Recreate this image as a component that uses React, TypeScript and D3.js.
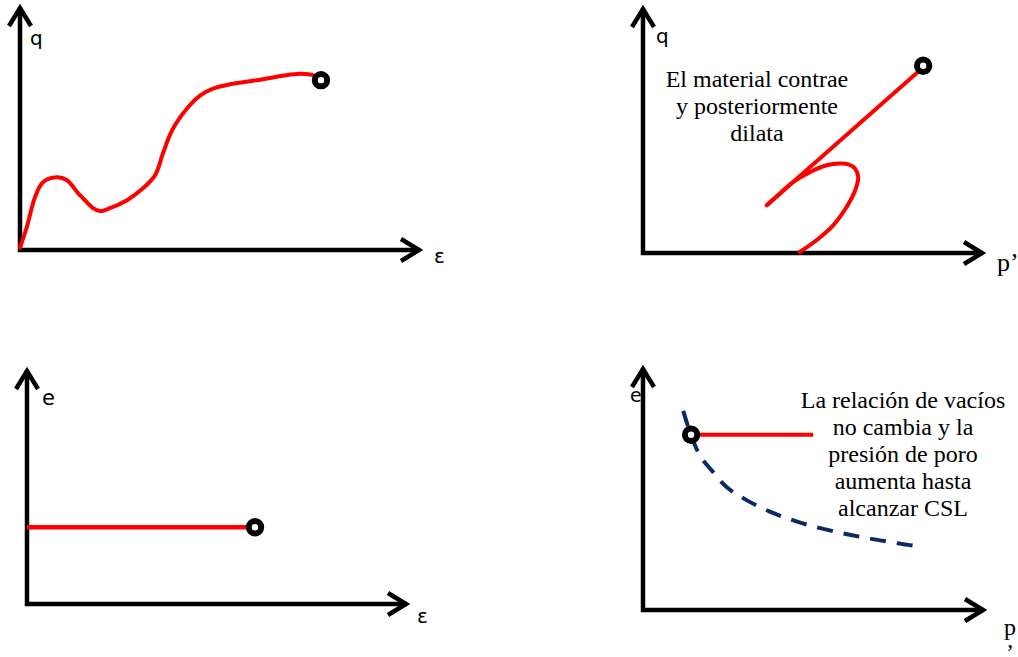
import React from 'react';
import * as d3 from 'd3';

const W = 1018;
const H = 657;

// ---------- Data (schematic units 0..100 along each axis) ----------
// Panel A: q vs ε
const qEpsCurve: [number, number][] = [
  [0, 1], [1.7, 9.4], [3.75, 21.7], [5.75, 27.9], [9.25, 29.9], [11.75, 28.7],
  [14.5, 23.4], [15.75, 21.3], [18.25, 17.2], [20, 16], [22.5, 17.2], [26.75, 20.5],
  [30.75, 25.4], [33.75, 30.7], [35.75, 39.8], [38, 49.2], [41.75, 58.2], [45, 63.5],
  [48.25, 66.4], [53.25, 68.4], [60, 70.1], [65.75, 71.7], [70, 72.5], [73, 72.1],
];
const qEpsEnd: [number, number] = [75.25, 69.9];

// Panel B: q vs p'
const qpLoop: [number, number][] = [
  [46.1, 0.4], [51.1, 5.3], [56.0, 11.4], [59.9, 18.8], [62.4, 25.6], [63.3, 31.0],
  [62.4, 34.4], [60.4, 36.2], [57.9, 36.5], [54.0, 35.8], [49.1, 33.0], [44.2, 29.0],
  [40.3, 24.3], [36.4, 19.5],
];
const qpLine: [number, number][] = [[36.4, 19.5], [80.6, 73.6]];
const qpEnd: [number, number] = [82.4, 76.4];

// Panel C: e vs ε
const eEpsLine: [number, number][] = [[0, 32.8], [60, 32.8]];
const eEpsEnd: [number, number] = [60, 32.8];

// Panel D: e vs p'
const epLine: [number, number][] = [[14.1, 72.4], [49.9, 72.4]];
const epStart: [number, number] = [14.1, 72.4];
const cslCurve: [number, number][] = [
  [11.8, 82.3], [13.8, 73.4], [16.7, 63.8], [20.2, 57.6], [24.6, 50.7], [30.5, 45.3],
  [38.3, 40.0], [47.1, 35.7], [56.9, 32.2], [66.6, 29.5], [76.4, 27.2], [81.7, 26.1],
];

// Text
const noteB = ['El material contrae', 'y posteriormente', 'dilata'];
const noteD = ['La relación de vacíos', 'no cambia y la', 'presión de poro', 'aumenta hasta', 'alcanzar CSL'];

// ---------- Layout ----------
type Panel = { x0: number; x1: number; y0: number; y1: number };
const PA: Panel = { x0: 20, x1: 420, y0: 250, y1: 7 };
const PB: Panel = { x0: 643, x1: 983, y0: 253, y1: 8 };
const PC: Panel = { x0: 27, x1: 407, y0: 604, y1: 370 };
const PD: Panel = { x0: 643, x1: 984, y0: 610, y1: 368 };

const RED = '#ff0000';
const NAVY = '#0b2a63';
const SANS = '"DejaVu Sans", Verdana, sans-serif';
const SERIF = '"Liberation Serif", "Times New Roman", serif';

function scales(p: Panel) {
  const x = d3.scaleLinear().domain([0, 100]).range([p.x0, p.x1]);
  const y = d3.scaleLinear().domain([0, 100]).range([p.y0, p.y1]);
  return { x, y };
}

function Axes({ p }: { p: Panel }) {
  const sw = 4.5;
  const back = 19;
  const out = 11;
  return (
    <g stroke="#000" strokeWidth={sw} fill="none" strokeLinejoin="miter" strokeMiterlimit={10}>
      <path d={`M${p.x0},${p.y1} L${p.x0},${p.y0} L${p.x1},${p.y0}`} strokeLinecap="butt" />
      <path d={`M${p.x0 - out},${p.y1 + back} L${p.x0},${p.y1 + 1} L${p.x0 + out},${p.y1 + back}`} />
      <path d={`M${p.x1 - back},${p.y0 - out} L${p.x1 - 1},${p.y0} L${p.x1 - back},${p.y0 + out}`} />
    </g>
  );
}

function Marker({ cx, cy }: { cx: number; cy: number }) {
  return <circle cx={cx} cy={cy} r={6.2} fill="#fff" stroke="#000" strokeWidth={6} />;
}

export default function App() {
  const A = scales(PA);
  const B = scales(PB);
  const C = scales(PC);
  const D = scales(PD);

  const smooth = (s: ReturnType<typeof scales>) =>
    d3.line<[number, number]>().x((d) => s.x(d[0])).y((d) => s.y(d[1])).curve(d3.curveCatmullRom.alpha(0.5));
  const straight = (s: ReturnType<typeof scales>) =>
    d3.line<[number, number]>().x((d) => s.x(d[0])).y((d) => s.y(d[1]));

  return (
    <svg width={W} height={H} style={{ position: 'absolute', left: 0, top: 0, background: '#fff' }}>
      <rect width={W} height={H} fill="#fff" />

      {/* Panel A */}
      <Axes p={PA} />
      <path d={smooth(A)(qEpsCurve) || ''} fill="none" stroke={RED} strokeWidth={4} strokeLinecap="round" />
      <Marker cx={A.x(qEpsEnd[0])} cy={A.y(qEpsEnd[1])} />
      <text x={30} y={45} fontFamily={SANS} fontSize={20}>q</text>
      <text x={434} y={263} fontFamily={SANS} fontSize={20}>ε</text>

      {/* Panel B */}
      <Axes p={PB} />
      <path d={smooth(B)(qpLoop) || ''} fill="none" stroke={RED} strokeWidth={4} strokeLinecap="round" />
      <path d={straight(B)(qpLine) || ''} fill="none" stroke={RED} strokeWidth={4} strokeLinecap="round" />
      <Marker cx={B.x(qpEnd[0])} cy={B.y(qpEnd[1])} />
      <text x={656} y={43} fontFamily={SANS} fontSize={20}>q</text>
      <text x={997} y={271} fontFamily={SERIF} fontSize={26}>p’</text>
      {noteB.map((t, i) => (
        <text key={t} x={757} y={87 + i * 27} fontFamily={SERIF} fontSize={24} textAnchor="middle">{t}</text>
      ))}

      {/* Panel C */}
      <Axes p={PC} />
      <path d={straight(C)(eEpsLine) || ''} fill="none" stroke={RED} strokeWidth={4.5} />
      <Marker cx={C.x(eEpsEnd[0])} cy={C.y(eEpsEnd[1])} />
      <text x={42} y={405} fontFamily={SANS} fontSize={21}>e</text>
      <text x={417} y={623} fontFamily={SANS} fontSize={20}>ε</text>

      {/* Panel D */}
      <path d={smooth(D)(cslCurve) || ''} fill="none" stroke={NAVY} strokeWidth={4} strokeDasharray="16 11" />
      <Axes p={PD} />
      <path d={straight(D)(epLine) || ''} fill="none" stroke={RED} strokeWidth={4} />
      <Marker cx={D.x(epStart[0])} cy={D.y(epStart[1])} />
      <text x={630} y={402} fontFamily={SANS} fontSize={19}>e</text>
      <text x={1004} y={635} fontFamily={SERIF} fontSize={24}>
        <tspan x={1004}>p</tspan>
        <tspan x={1006} dy={25}>’</tspan>
      </text>
      {noteD.map((t, i) => (
        <text key={t} x={903} y={408 + i * 27} fontFamily={SERIF} fontSize={24} textAnchor="middle">{t}</text>
      ))}
    </svg>
  );
}
